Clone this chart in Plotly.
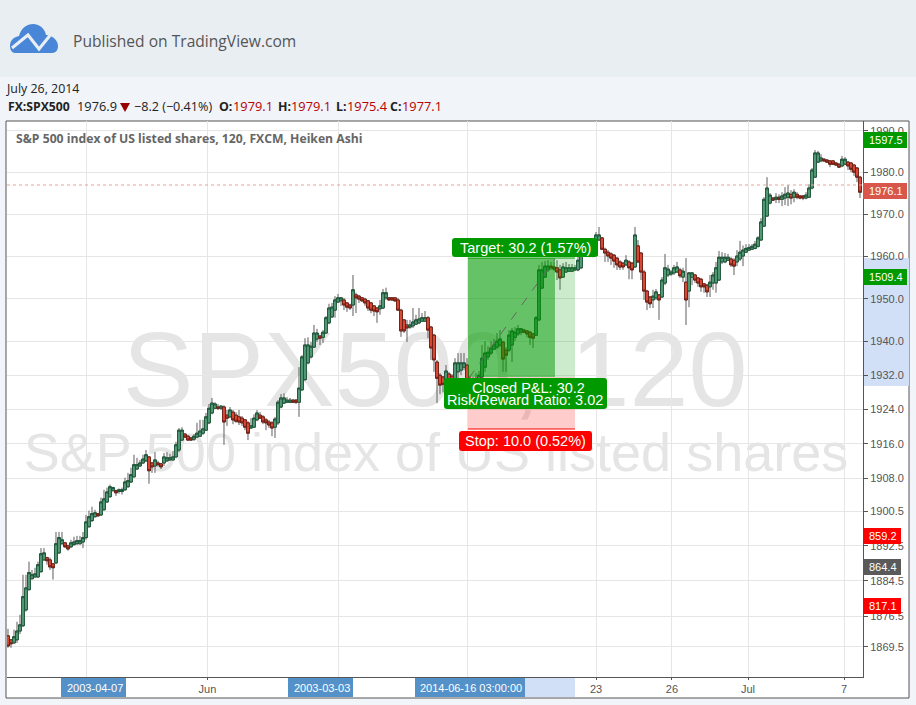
import numpy as np
import plotly.graph_objects as go

# MARK: data
opens = [
    1872.0,1871.1,1870.4,1871.1,1873.1,1874.3,1877.9,1882.5,1885.0,1885.4,
    1885.4,1886.6,1889.3,1889.8,1889.3,1888.4,1888.6,1890.9,1893.0,1893.2,
    1892.5,1892.3,1892.8,1893.0,1893.0,1893.4,1894.4,1896.9,1898.3,1899.2,
    1899.9,1899.6,1900.8,1902.6,1903.8,1905.2,1905.2,1905.0,1905.0,1905.4,
    1906.1,1907.2,1908.4,1910.2,1910.9,1911.6,1912.1,1913.0,1911.6,1910.9,
    1911.6,1911.4,1911.6,1912.1,1912.3,1912.3,1913.0,1914.6,1916.9,1918.3,
    1917.8,1917.4,1917.1,1917.6,1917.8,1918.5,1919.2,1920.9,1923.2,1924.3,
    1924.6,1924.3,1924.6,1922.7,1922.3,1923.4,1922.7,1922.3,1922.0,1921.6,
    1920.9,1919.7,1919.9,1921.6,1922.7,1922.3,1921.6,1921.1,1920.9,1919.9,
    1920.9,1924.6,1925.5,1925.7,1925.7,1926.2,1926.2,1925.7,1928.6,1931.0,
    1934.9,1936.3,1938.6,1940.5,1941.2,1940.9,1941.9,1944.3,1945.7,1947.3,
    1949.2,1949.5,1949.7,1949.0,1948.5,1948.5,1950.9,1950.6,1950.2,1949.9,
    1949.5,1949.0,1948.3,1947.8,1947.6,1947.8,1950.2,1950.2,1950.2,1950.2,
    1949.7,1947.3,1945.0,1943.8,1943.3,1943.6,1944.0,1944.3,1944.7,1944.7,
    1945.5,1943.3,1941.4,1935.1,1932.0,1931.6,1930.9,1932.3,1931.8,1930.9,
    1932.8,1933.2,1933.9,1934.4,1931.3,1930.9,1930.4,1930.9,1931.6,1933.9,
    1936.3,1937.2,1938.1,1938.6,1939.1,1939.8,1937.9,1937.9,1939.1,1940.9,
    1941.7,1942.1,1942.6,1942.4,1942.1,1941.7,1941.4,1945.0,1952.5,1955.1,
    1956.8,1957.7,1957.5,1957.3,1956.8,1955.1,1956.3,1956.5,1956.5,1956.8,
    1956.8,1957.3,1960.3,1961.7,1960.8,1960.8,1960.3,1963.9,1964.4,1961.7,
    1961.0,1960.6,1960.3,1959.6,1958.7,1958.4,1958.0,1958.7,1958.4,1957.5,
    1962.5,1960.8,1956.3,1951.8,1950.4,1949.7,1950.2,1950.9,1950.4,1953.7,
    1955.6,1955.8,1956.1,1956.3,1956.8,1955.1,1953.9,1951.8,1955.1,1955.6,
    1954.9,1954.6,1953.5,1953.2,1952.8,1953.7,1953.7,1954.4,1958.7,1958.7,
    1959.1,1959.4,1959.1,1958.7,1959.4,1960.1,1961.0,1961.5,1961.7,1961.9,
    1962.4,1963.9,1967.2,1969.6,1972.7,1973.9,1973.6,1974.1,1973.6,1973.9,
    1974.1,1974.8,1974.1,1974.8,1974.4,1974.4,1973.9,1974.1,1976.3,1978.9,
    1982.5,1982.8,1983.2,1983.0,1982.8,1982.8,1982.3,1982.0,1981.6,1982.0,
    1982.5,1982.3,1981.8,1981.1,1978.9,
]
closes = [
    1869.7,1870.2,1871.8,1873.1,1874.5,1880.9,1882.9,1886.4,1885.9,1886.1,
    1888.2,1890.7,1890.9,1889.1,1887.7,1887.5,1893.0,1894.4,1893.9,1892.3,
    1891.8,1893.2,1893.4,1893.7,1893.7,1894.4,1898.0,1899.2,1899.9,1900.1,
    1899.4,1902.6,1903.3,1904.9,1906.1,1905.9,1904.7,1905.4,1905.4,1907.2,
    1907.5,1908.9,1911.2,1911.2,1911.6,1912.5,1913.5,1909.8,1910.7,1912.3,
    1911.2,1910.7,1913.0,1912.8,1912.8,1913.0,1915.8,1919.2,1919.2,1917.6,
    1916.9,1916.9,1917.8,1918.5,1919.0,1919.5,1922.3,1924.3,1925.5,1925.3,
    1924.3,1924.8,1921.1,1922.0,1923.9,1921.6,1921.3,1921.1,1920.9,1919.9,
    1918.5,1920.2,1922.0,1923.2,1922.0,1921.1,1920.9,1920.4,1919.7,1921.8,
    1925.7,1926.7,1926.7,1926.2,1926.2,1925.7,1925.7,1929.0,1936.3,1939.1,
    1939.1,1938.8,1941.9,1941.9,1940.7,1942.1,1945.5,1947.8,1948.0,1949.7,
    1950.2,1950.2,1948.5,1948.0,1947.8,1952.1,1950.2,1949.9,1949.5,1949.0,
    1947.8,1947.3,1947.1,1946.9,1948.3,1951.4,1951.4,1949.7,1949.7,1949.5,
    1947.3,1942.4,1942.4,1943.1,1943.8,1944.5,1945.0,1945.2,1945.5,1945.5,
    1942.6,1938.4,1935.6,1931.3,1929.7,1929.9,1933.0,1930.6,1929.7,1934.9,
    1934.9,1934.9,1934.9,1930.2,1929.5,1929.7,1931.3,1932.0,1936.0,1937.2,
    1937.4,1938.4,1939.1,1940.0,1940.5,1935.8,1936.7,1941.4,1942.4,1942.1,
    1942.9,1942.9,1942.1,1941.7,1940.9,1940.7,1945.5,1956.8,1956.8,1957.7,
    1957.7,1957.3,1957.0,1956.3,1954.9,1957.5,1957.3,1957.3,1957.3,1957.3,
    1959.1,1961.9,1962.1,1960.8,1960.1,1960.1,1965.1,1965.1,1961.7,1960.8,
    1960.1,1959.6,1958.9,1958.0,1957.5,1957.5,1959.1,1957.3,1956.8,1965.1,
    1958.7,1956.3,1951.8,1949.2,1948.8,1950.6,1951.6,1949.7,1954.4,1957.3,
    1957.0,1956.3,1957.3,1957.5,1955.4,1956.5,1949.7,1956.1,1956.1,1954.4,
    1953.7,1952.8,1952.8,1951.6,1953.9,1955.6,1957.3,1959.8,1959.8,1959.8,
    1959.8,1958.0,1957.7,1960.1,1961.0,1961.5,1961.9,1962.1,1962.4,1962.9,
    1964.4,1968.2,1973.6,1976.3,1974.6,1973.4,1974.1,1973.6,1974.4,1974.8,
    1975.1,1973.9,1975.3,1974.1,1973.9,1973.9,1974.6,1976.3,1980.6,1984.7,
    1984.7,1983.5,1982.8,1982.5,1982.0,1982.0,1981.8,1981.3,1983.2,1983.2,
    1981.6,1980.8,1980.1,1978.9,1975.3,
]
highs = [
    1873.6,1871.1,1873.4,1875.2,1876.8,1885.9,1885.9,1888.9,1887.0,1887.5,
    1888.9,1892.0,1892.0,1890.0,1889.8,1888.6,1895.7,1895.7,1895.7,1893.4,
    1892.8,1893.9,1894.6,1894.8,1894.8,1895.7,1899.6,1900.6,1901.5,1900.8,
    1900.1,1903.6,1905.4,1905.9,1906.6,1906.1,1905.4,1905.7,1905.9,1908.2,
    1909.3,1910.5,1913.5,1912.8,1912.3,1913.5,1914.6,1913.2,1911.8,1914.1,
    1912.1,1911.6,1913.9,1914.1,1913.7,1914.4,1916.5,1919.7,1919.9,1918.5,
    1918.1,1917.6,1918.3,1920.9,1921.6,1921.6,1923.2,1925.3,1926.7,1925.7,
    1925.3,1925.0,1925.0,1923.9,1924.6,1923.9,1923.4,1923.9,1922.5,1921.8,
    1921.3,1922.0,1922.9,1923.9,1923.4,1922.7,1922.0,1921.6,1921.3,1922.3,
    1926.2,1927.6,1927.8,1926.9,1926.7,1926.4,1926.4,1933.9,1936.7,1940.7,
    1940.9,1939.8,1943.8,1942.9,1941.4,1942.6,1945.9,1948.8,1949.0,1950.6,
    1951.1,1950.4,1950.2,1949.2,1948.8,1955.6,1951.4,1950.9,1950.4,1950.2,
    1949.7,1949.2,1948.5,1948.0,1949.7,1952.3,1952.6,1950.4,1950.4,1950.4,
    1950.2,1947.6,1945.2,1945.0,1945.0,1947.8,1946.2,1947.8,1946.6,1947.1,
    1945.9,1943.6,1941.7,1935.6,1932.5,1931.8,1934.4,1932.8,1932.3,1936.0,
    1937.2,1937.2,1937.2,1936.0,1931.8,1931.6,1932.5,1933.0,1939.1,1940.0,
    1938.8,1940.0,1940.5,1941.9,1942.6,1940.0,1938.6,1942.6,1943.1,1943.3,
    1943.8,1943.1,1942.9,1942.6,1942.4,1941.9,1945.9,1958.0,1958.7,1958.9,
    1959.1,1958.7,1958.7,1959.1,1958.0,1958.4,1958.7,1958.2,1958.2,1958.0,
    1960.1,1962.6,1963.1,1961.9,1961.0,1961.5,1965.8,1967.0,1964.6,1962.1,
    1961.5,1961.0,1960.6,1959.8,1959.1,1958.7,1960.3,1959.1,1958.7,1967.0,
    1963.9,1961.0,1956.8,1952.1,1950.6,1952.1,1952.3,1951.1,1955.1,1960.6,
    1958.0,1956.8,1958.0,1958.7,1957.3,1957.3,1959.6,1956.3,1956.3,1955.8,
    1955.1,1954.9,1953.7,1953.5,1955.6,1956.3,1958.7,1961.3,1961.0,1960.8,
    1960.6,1959.8,1959.6,1961.5,1963.7,1962.6,1962.9,1962.9,1962.9,1963.7,
    1964.8,1969.1,1974.1,1978.9,1975.1,1974.1,1975.1,1974.8,1975.3,1976.5,
    1977.0,1975.8,1976.0,1975.3,1974.6,1974.6,1975.3,1977.2,1981.1,1985.4,
    1985.2,1984.4,1983.5,1983.2,1983.0,1983.0,1982.5,1982.3,1984.0,1983.7,
    1982.8,1982.5,1982.0,1981.3,1979.2,
]
lows = [
    1869.3,1869.3,1870.2,1870.4,1872.4,1874.0,1877.5,1882.3,1884.8,1885.2,
    1885.2,1886.4,1889.1,1888.2,1887.0,1884.8,1888.4,1890.7,1892.8,1892.0,
    1891.4,1892.0,1892.5,1892.8,1892.8,1892.0,1893.9,1896.7,1898.0,1899.0,
    1899.2,1899.4,1900.6,1902.4,1903.6,1905.0,1904.0,1904.5,1904.3,1905.2,
    1905.9,1907.0,1908.2,1910.0,1910.7,1911.4,1911.8,1906.8,1909.3,1909.3,
    1910.7,1910.2,1910.9,1911.8,1912.1,1912.1,1912.8,1914.1,1916.7,1917.4,
    1916.7,1916.7,1916.7,1917.4,1917.6,1918.1,1919.0,1920.6,1922.9,1924.1,
    1923.9,1923.9,1915.8,1920.2,1922.0,1920.6,1920.9,1920.4,1920.2,1919.2,
    1916.9,1919.5,1919.7,1921.3,1921.8,1920.6,1919.2,1919.7,1917.8,1917.4,
    1920.4,1924.3,1925.3,1925.5,1925.5,1925.5,1925.3,1922.3,1928.3,1930.6,
    1934.6,1936.0,1938.4,1939.8,1939.1,1939.6,1941.7,1944.0,1945.5,1945.5,
    1949.0,1948.3,1947.3,1946.9,1947.3,1945.9,1946.6,1949.0,1949.2,1948.3,
    1947.1,1946.6,1945.9,1944.3,1946.2,1947.6,1949.7,1949.5,1949.5,1949.2,
    1947.1,1941.0,1941.9,1939.8,1942.9,1943.1,1943.8,1944.0,1944.5,1944.5,
    1940.7,1935.6,1932.8,1925.5,1927.6,1928.0,1928.0,1927.1,1926.2,1927.1,
    1930.9,1932.0,1933.2,1928.1,1927.4,1927.6,1928.5,1929.9,1931.3,1932.8,
    1935.6,1936.7,1937.9,1938.1,1938.6,1932.8,1932.8,1937.4,1935.1,1940.0,
    1941.2,1941.4,1941.9,1940.9,1939.1,1938.4,1941.2,1944.7,1952.3,1954.9,
    1956.3,1956.8,1956.5,1954.4,1952.1,1954.9,1956.1,1956.3,1956.3,1956.5,
    1956.5,1957.0,1960.1,1960.3,1959.8,1959.8,1960.1,1963.7,1961.5,1958.7,
    1958.7,1958.0,1957.3,1956.8,1956.8,1956.8,1957.7,1954.6,1954.6,1957.3,
    1958.4,1954.4,1949.7,1947.3,1947.8,1947.8,1949.7,1945.0,1950.2,1953.2,
    1955.1,1955.4,1955.6,1956.1,1954.9,1953.9,1943.8,1948.0,1953.2,1953.7,
    1952.8,1951.6,1951.4,1950.4,1950.4,1952.1,1951.4,1954.2,1958.2,1958.4,
    1958.9,1957.5,1955.6,1957.7,1958.9,1957.7,1960.8,1961.3,1961.5,1961.7,
    1962.1,1963.7,1967.0,1969.4,1972.4,1973.2,1972.7,1972.7,1972.0,1972.2,
    1972.0,1972.4,1972.9,1973.6,1973.6,1973.4,1973.6,1973.9,1976.0,1978.7,
    1982.3,1982.5,1982.5,1982.3,1981.3,1981.8,1981.6,1981.1,1981.3,1981.8,
    1980.6,1980.1,1979.2,1977.7,1973.9,
]
price_ticks = [1990.0, 1980.0, 1970.0, 1960.0, 1950.0, 1940.0, 1932.0, 1924.0,
               1916.0, 1908.0, 1900.5, 1892.5, 1884.5, 1876.5, 1869.5]
# bar positions of the vertical grid lines
time_ticks = [26.33, 66.5, 110.33, 153.33, 196.0, 221.33, 246.67, 278.67]
time_labels = ["", "Jun", "", "", "23", "26", "Jul", "7"]

WICK = "#5e5e5e"
UP_FILL, UP_LINE = "#5ba380", "#1c5537"
DOWN_FILL, DOWN_LINE = "#e9503c", "#6e1c12"
FRAME = "#555555"
GREEN_TAG = "#009900"
RED_TAG = "#ff0000"
BLUE_TAG = "#5591c9"
BLUE_RANGE = "#d2e0f7"
TEXT_RED = "#b50000"

bar_index = list(range(len(opens)))
fig = go.Figure()


# MARK: page furniture, in pixel coordinates on x/y
def rect(x0, y0, x1, y1, color, layer="above", line=None):
    fig.add_shape(
        type="rect", xref="x", yref="y", x0=x0, y0=y0, x1=x1, y1=y1,
        fillcolor=color, layer=layer,
        line={"width": 1 if line else 0, "color": line or color},
    )


def rounded(x0, y0, x1, y1, color, r=3):
    path = (
        f"M {x0 + r} {y0} L {x1 - r} {y0} Q {x1} {y0} {x1} {y0 + r} "
        f"L {x1} {y1 - r} Q {x1} {y1} {x1 - r} {y1} L {x0 + r} {y1} "
        f"Q {x0} {y1} {x0} {y1 - r} L {x0} {y0 + r} Q {x0} {y0} {x0 + r} {y0} Z"
    )
    fig.add_shape(type="path", xref="x", yref="y", path=path, fillcolor=color, line_width=0)


def label(x, y, text, size=12, color="#222222", family="Open Sans", anchor="left", bold=False):
    fig.add_annotation(
        x=x, y=y, xref="x", yref="y", text=f"<b>{text}</b>" if bold else text,
        showarrow=False, xanchor=anchor, yanchor="middle", borderpad=0,
        font={"size": size, "color": color, "family": family},
    )


def tag(x0, y0, x1, y1, text, color):
    rect(x0, y0, x1, y1, color)
    label((x0 + x1) / 2 + 1, (y0 + y1) / 2, text, size=11, color="white",
          family="Liberation Sans", anchor="center")


rect(0, 0, 916, 77, "#e9eef3", layer="below")
rect(6, 121, 909, 698, "white", layer="below", line=FRAME)
rect(864, 258, 909, 386, BLUE_RANGE, layer="below")
rect(469, 678, 575, 697, BLUE_RANGE, layer="below")

# watermark sits under the candles, so it is a text trace on the lower subplot
fig.add_trace(go.Scatter(
    x=[435, 436], y=[379, 457], mode="text",
    text=["SPX500, 120", "S&P 500 index of US listed shares"],
    textposition="middle center",
    textfont={"size": [106, 54], "color": "#e5e5e5", "family": "Liberation Sans"},
    hoverinfo="skip", showlegend=False, xaxis="x", yaxis="y",
))

# MARK: candles
fig.add_trace(go.Candlestick(
    x=bar_index, open=opens, high=highs, low=lows, close=closes,
    increasing={"line": {"color": WICK, "width": 1}, "fillcolor": WICK},
    decreasing={"line": {"color": WICK, "width": 1}, "fillcolor": WICK},
    whiskerwidth=0, hoverinfo="skip", showlegend=False, xaxis="x2", yaxis="y2",
))
fig.add_trace(go.Candlestick(
    x=bar_index, open=opens, close=closes,
    high=np.maximum(opens, closes), low=np.minimum(opens, closes),
    increasing={"line": {"color": UP_LINE, "width": 1}, "fillcolor": UP_FILL},
    decreasing={"line": {"color": DOWN_LINE, "width": 1}, "fillcolor": DOWN_FILL},
    whiskerwidth=0, hoverinfo="skip", showlegend=False, xaxis="x2", yaxis="y2",
))

# MARK: position tool
rect(468, 258, 575, 377, "rgba(0,153,0,0.2)")
rect(468, 258, 555, 377, "rgba(0,153,0,0.5)")
rect(468, 377, 575, 429, "rgba(255,0,0,0.2)")
fig.add_shape(type="line", xref="x", yref="y", x0=468, x1=575, y0=258, y1=258,
              line={"color": GREEN_TAG, "width": 1})
fig.add_shape(type="line", xref="x", yref="y", x0=468, x1=575, y0=429, y1=429,
              line={"color": RED_TAG, "width": 1})
fig.add_shape(type="line", xref="x", yref="y", x0=469, x1=555, y0=378, y1=259,
              line={"color": "#666666", "width": 1, "dash": "dash"})
fig.add_shape(type="line", xref="x", yref="y", x0=7, x1=863, y0=185, y1=185,
              line={"color": "#e8a396", "width": 1, "dash": "dot"})

rounded(452, 238, 598, 257, GREEN_TAG)
label(525, 247.5, "Target: 30.2 (1.57%)", size=14.5, color="white",
      family="Liberation Sans", anchor="center")
rounded(444, 378, 607, 409, GREEN_TAG)
label(528, 388, "Closed P&amp;L: 30.2", size=14.5, color="white",
      family="Liberation Sans", anchor="center")
label(525, 400, "Risk/Reward Ratio: 3.02", size=14.5, color="white",
      family="Liberation Sans", anchor="center")
rounded(459, 431, 592, 451, RED_TAG)
label(525, 441, "Stop: 10.0 (0.52%)", size=14.5, color="white",
      family="Liberation Sans", anchor="center")

# MARK: axis tags
tag(863, 132, 907, 148, "1597.5", GREEN_TAG)
tag(863, 183, 907, 199, "1976.1", "#d9574a")
tag(863, 269, 907, 285, "1509.4", GREEN_TAG)
tag(863, 528, 901, 544, "859.2", RED_TAG)
tag(863, 559, 901, 575, "864.4", "#5a5a5a")
tag(863, 598, 901, 614, "817.1", RED_TAG)
tag(61, 678, 126, 697, "2003-04-07", BLUE_TAG)
tag(288, 678, 353, 697, "2003-03-03", BLUE_TAG)
tag(415, 678, 525, 697, "2014-06-16 03:00:00", BLUE_TAG)

# MARK: header
fig.add_shape(
    type="path", xref="x", yref="y", fillcolor="#4a86d8", line_width=0,
    path="M 10 46 C 10 40 14 37 19 36 C 21 28 27 24 33 24 C 40 24 45 29 46 35 "
         "C 52 35 58 40 58 46 C 58 50 56 53 52 53 L 15 53 C 12 53 10 50 10 46 Z",
)
fig.add_shape(
    type="path", xref="x", yref="y", path="M 12 48 L 28 35 L 39 49 L 52 33",
    line={"color": "#e9eef3", "width": 3},
)
fig.add_shape(
    type="path", xref="x", yref="y", path="M 120 103 L 130 103 L 125 112 Z",
    fillcolor="#990000", line_width=0,
)
label(72, 41, "Published on TradingView.com", size=15.6, color="#555555")
label(5, 88, "July 26, 2014", size=12.4)
label(7, 106, "FX:SPX500", size=12.2, bold=True)
label(76, 106, "1976.9", size=12.8)
label(133, 106, "−8.2 (−0.41%)", size=12.6)
for x, head, xv, value in [
    (218, "O:", 232, "1979.1"),
    (277, "H:", 290, "1979.1"),
    (335, "L:", 346, "1975.4"),
    (389, "C:", 401, "1977.1"),
]:
    label(x, 106, head, size=12.4, bold=True)
    label(xv, 106, value, size=12.8, color=TEXT_RED)
label(15, 138, "S&amp;P 500 index of US listed shares, 120, FXCM, Heiken Ashi",
      size=12.2, color="#666666", bold=True)

# MARK: layout
fig.update_layout(
    width=916,
    height=705,
    margin={"l": 0, "r": 0, "t": 0, "b": 0, "pad": 0},
    paper_bgcolor="#f1f4f8",
    plot_bgcolor="rgba(0,0,0,0)",
    showlegend=False,
    boxgap=0.1,
    boxgroupgap=0,
    xaxis={"domain": [0, 1], "range": [0, 916], "visible": False, "fixedrange": True},
    yaxis={"domain": [0, 1], "range": [705, 0], "visible": False, "fixedrange": True},
    xaxis2={
        "domain": [7 / 916, 863 / 916],
        "anchor": "y2",
        "range": [-0.33, 285],
        "rangeslider": {"visible": False},
        "tickmode": "array",
        "tickvals": time_ticks,
        "ticktext": time_labels,
        "ticks": "outside",
        "ticklen": 2,
        "tickcolor": FRAME,
        "showline": True,
        "linecolor": FRAME,
        "gridcolor": "#e6e6e6",
        "zeroline": False,
        "tickfont": {"size": 11, "color": "#555555", "family": "Liberation Sans"},
    },
    yaxis2={
        "domain": [1 - 677 / 705, 1 - 121 / 705],
        "anchor": "x2",
        "side": "right",
        "type": "log",
        "range": [np.log10(1862.7), np.log10(1992.4)],
        "tickmode": "array",
        "tickvals": price_ticks,
        "ticktext": [f"{p:.1f}" for p in price_ticks],
        "ticks": "outside",
        "ticklen": 4,
        "tickcolor": FRAME,
        "showline": True,
        "linecolor": FRAME,
        "gridcolor": "#e6e6e6",
        "tickfont": {"size": 11, "color": "#555555", "family": "Liberation Sans"},
    },
)

fig.write_html(
    "out.html",
    config={"displayModeBar": False},
    post_script="document.body.style.margin = '0';",
)
